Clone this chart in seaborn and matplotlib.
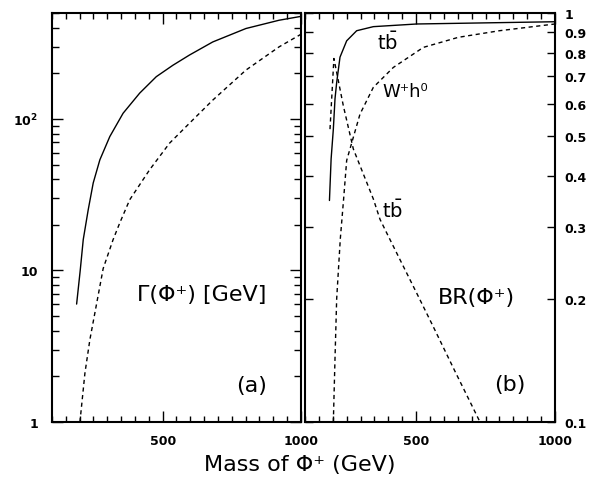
import numpy as np
import pandas as pd
import matplotlib
matplotlib.use("Agg")
import matplotlib.pyplot as plt
import matplotlib.ticker as mticker
import seaborn as sns

# (a) total width, GeV
width_mass = [189, 202, 213, 231, 249, 273, 309, 357, 417, 477, 537, 597, 681, 801, 921, 1000]
width_solid = [6.0, 10.0, 16.0, 25.2, 37.8, 53.7, 76.5, 109.0, 148.0, 190.0, 226.0, 264.0, 322.0, 395.0, 448.0, 475.0]
width_dash_mass = [201, 219, 237, 261, 285, 321, 345, 381, 453, 525, 597, 681, 801, 921, 1000]
width_dash = [1.0, 2.1, 3.5, 6.0, 10.3, 16.0, 20.6, 29.3, 46.2, 69.2, 93.7, 133.0, 210.0, 299.0, 362.0]

# (b) branching ratios
tb_solid_mass = [188, 194, 202, 208, 214, 226, 250, 286, 346, 502, 1000]
tb_solid = [0.348, 0.44, 0.52, 0.617, 0.676, 0.78, 0.855, 0.905, 0.926, 0.94, 0.952]
tb_dash_mass = [190, 204, 238, 274, 346, 370, 394, 430, 503, 560, 640, 700, 730]
tb_dash = [0.52, 0.774, 0.593, 0.465, 0.351, 0.313, 0.29, 0.259, 0.206, 0.172, 0.133, 0.11, 0.1]
wh_mass = [202, 208, 214, 227, 239, 250, 298, 346, 418, 526, 652, 800, 1000]
wh_dash = [0.1, 0.143, 0.2, 0.28, 0.351, 0.436, 0.566, 0.658, 0.736, 0.824, 0.872, 0.905, 0.94]

sns.set_style("ticks")
plt.rcParams['font.family'] = ['DejaVu Sans']
plt.rcParams['mathtext.fontset'] = 'dejavusans'
plt.rcParams['text.color'] = 'black'
plt.rcParams['axes.edgecolor'] = 'black'
plt.rcParams['xtick.color'] = 'black'
plt.rcParams['ytick.color'] = 'black'

fig = plt.figure(figsize=(6.11, 4.81), dpi=100)
ax1 = fig.add_axes([0.0851, 0.1206, 0.4075, 0.8503])
ax2 = fig.add_axes([0.4992, 0.1206, 0.4091, 0.8503])

dash = (3, 2.5)

sns.lineplot(x=width_mass, y=width_solid, ax=ax1, color='black', lw=1.0, estimator=None, sort=False)
sns.lineplot(x=width_dash_mass, y=width_dash, ax=ax1, color='black', lw=1.0, estimator=None, sort=False)
ax1.lines[-1].set_dashes(dash)

sns.lineplot(x=tb_solid_mass, y=tb_solid, ax=ax2, color='black', lw=1.0, estimator=None, sort=False)
sns.lineplot(x=tb_dash_mass, y=tb_dash, ax=ax2, color='black', lw=1.0, estimator=None, sort=False)
ax2.lines[-1].set_dashes(dash)
sns.lineplot(x=wh_mass, y=wh_dash, ax=ax2, color='black', lw=1.0, estimator=None, sort=False)
ax2.lines[-1].set_dashes(dash)

for ax in (ax1, ax2):
    ax.set_yscale('log')
    ax.set_xlim(100, 1000)
    ax.xaxis.set_major_locator(mticker.FixedLocator([500, 1000]))
    ax.xaxis.set_minor_locator(mticker.MultipleLocator(50))
    ax.xaxis.set_major_formatter(mticker.FixedFormatter(['500', '1000']))
    ax.tick_params(which='both', direction='in', top=True, right=True, left=True, bottom=True,
                   labelsize=9, width=1.0, colors='black')
    ax.tick_params(axis='x', which='major', length=8, pad=9)
    ax.tick_params(axis='x', which='minor', length=4)
    for sp in ax.spines.values():
        sp.set_linewidth(1.5)
        sp.set_color('black')
    ax.set_xlabel('')
    ax.set_ylabel('')

ax1.set_ylim(1, 500)
ax1.yaxis.set_major_locator(mticker.FixedLocator([1, 10, 100]))
ax1.yaxis.set_major_formatter(mticker.FixedFormatter(['1', '10', r'$\mathbf{10^2}$']))
ax1.yaxis.set_minor_locator(mticker.LogLocator(base=10, subs=np.arange(2, 10)))
ax1.yaxis.set_minor_formatter(mticker.NullFormatter())
ax1.tick_params(axis='y', which='major', length=8, pad=10)
ax1.tick_params(axis='y', which='minor', length=5)

ax2.set_ylim(0.1, 1)
ax2.yaxis.set_major_locator(mticker.FixedLocator([0.1, 0.2, 0.3, 0.4, 0.5, 0.6, 0.7, 0.8, 0.9, 1.0]))
ax2.yaxis.set_major_formatter(mticker.FixedFormatter(['0.1', '0.2', '0.3', '0.4', '0.5', '0.6',
                                                      '0.7', '0.8', '0.9', '1']))
ax2.yaxis.set_minor_locator(mticker.NullLocator())
ax2.tick_params(axis='y', which='major', length=6, pad=7, labelleft=False, labelright=True)

for ax in (ax1, ax2):
    for lab in ax.get_yticklabels() + ax.get_xticklabels():
        lab.set_fontweight('bold')

ax1.text(0.6, 0.313, 'Γ(Φ⁺) [GeV]', transform=ax1.transAxes, fontsize=16, ha='center', va='center')
ax1.text(0.80, 0.09, '(a)', transform=ax1.transAxes, fontsize=16, ha='center', va='center')

ax2.text(0.33, 0.93, r'$\mathregular{t\bar{b}}$', transform=ax2.transAxes, fontsize=14, ha='center', va='center')
ax2.text(0.40, 0.81, 'W⁺h⁰', transform=ax2.transAxes, fontsize=13, ha='center', va='center')
ax2.text(0.35, 0.52, r'$\mathregular{t\bar{b}}$', transform=ax2.transAxes, fontsize=14, ha='center', va='center')
ax2.text(0.687, 0.305, 'BR(Φ⁺)', transform=ax2.transAxes, fontsize=16, ha='center', va='center')
ax2.text(0.82, 0.093, '(b)', transform=ax2.transAxes, fontsize=16, ha='center', va='center')

fig.text(0.49, 0.033, 'Mass of Φ⁺ (GeV)', fontsize=16, ha='center', va='center')

fig.savefig('out.png', dpi=100)
